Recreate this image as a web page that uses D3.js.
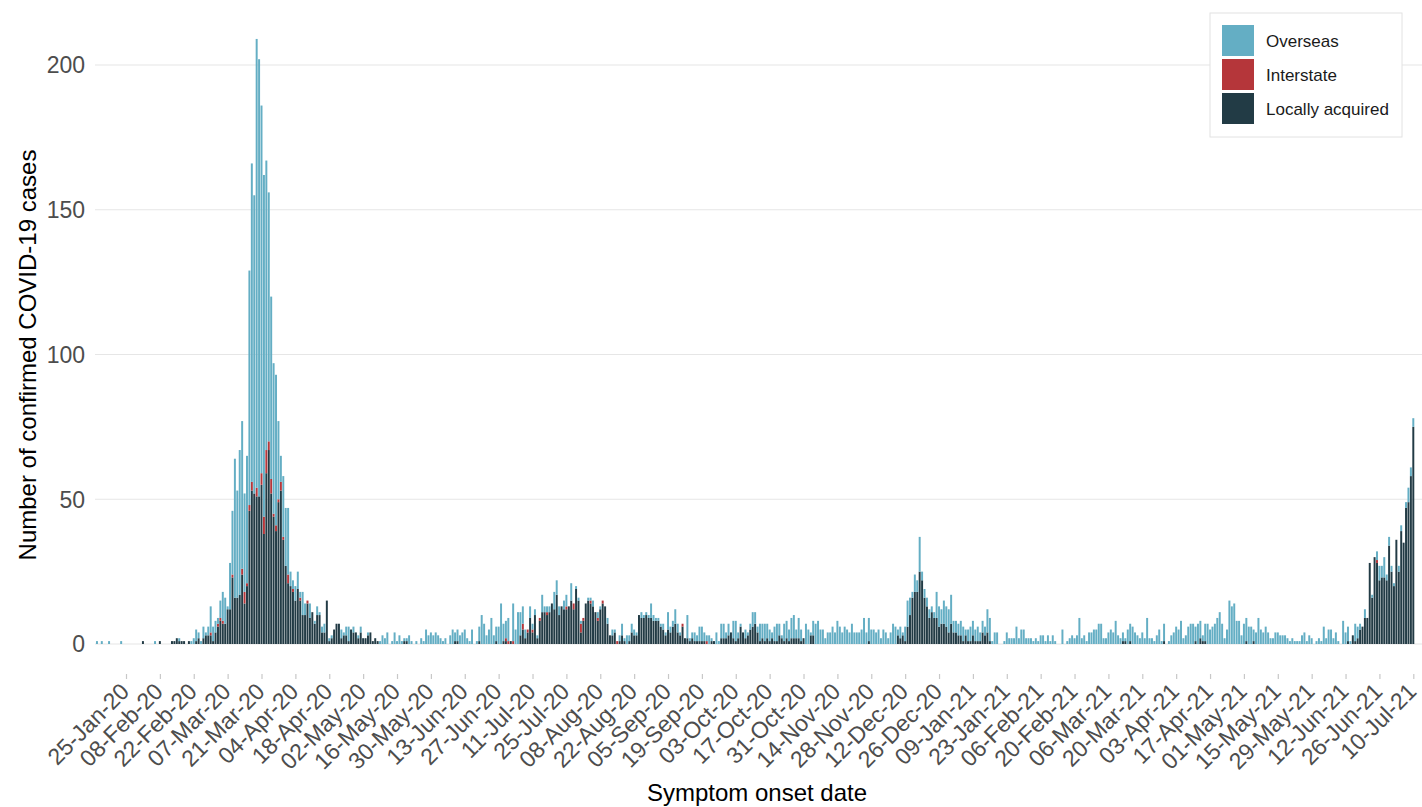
<!DOCTYPE html>
<html>
<head>
<meta charset="utf-8">
<script src="https://cdn.jsdelivr.net/npm/d3@7"></script>
<style>
  body { margin: 0; background: #fff; }
  text { font-family: "Liberation Sans", Arial, sans-serif; }
</style>
</head>
<body>
<div id="vis"></div>
<script>
const FRAME_WIDTH = 1422;
const FRAME_HEIGHT = 807;

// first bar of the series
const START_DAY = "13-Jan-20";

const tickLabels = ["25-Jan-20", "08-Feb-20", "22-Feb-20", "07-Mar-20", "21-Mar-20", "04-Apr-20",
  "18-Apr-20", "02-May-20", "16-May-20", "30-May-20", "13-Jun-20", "27-Jun-20", "11-Jul-20",
  "25-Jul-20", "08-Aug-20", "22-Aug-20", "05-Sep-20", "19-Sep-20", "03-Oct-20", "17-Oct-20",
  "31-Oct-20", "14-Nov-20", "28-Nov-20", "12-Dec-20", "26-Dec-20", "09-Jan-21", "23-Jan-21",
  "06-Feb-21", "20-Feb-21", "06-Mar-21", "20-Mar-21", "03-Apr-21", "17-Apr-21", "01-May-21",
  "15-May-21", "29-May-21", "12-Jun-21", "26-Jun-21", "10-Jul-21"];

const yTicks = [0, 50, 100, 150, 200];

const seriesKeys = ["local", "interstate", "overseas"];
const seriesNames = ["Locally acquired", "Interstate", "Overseas"];
const seriesColors = ["#223b45", "#b5363a", "#64aec4"];

// daily counts, 10 days per row
const local = [
  0,0,0,0,0,0,0,0,0,0, 0,0,0,0,0,0,0,0,0,1, 0,0,0,0,0,0,1,0,0,0, 0,1,1,2,1,1,1,0,1,0,
  0,1,2,0,2,3,3,3,1,4, 6,8,7,7,12,12,23,16,16,17, 24,14,20,46,53,52,51,51,55,38,
  59,67,52,44,39,49,53,36,27,21, 20,18,15,19,15,10,10,14,9,11, 7,10,10,4,4,15,1,2,5,7,
  7,2,3,3,1,5,4,4,2,4, 2,2,3,4,1,2,1,0,0,0, 0,0,0,0,0,0,0,1,1,0, 0,0,0,0,0,0,0,0,0,0,
  0,0,0,0,0,0,0,0,1,1, 0,0,0,0,0,0,0,0,1,0, 0,0,0,0,0,1,0,0,1,1, 0,1,0,0,0,3,5,2,4,9,
  4,10,2,8,11,11,10,11,14,12, 17,10,13,12,12,13,15,12,19,15, 4,8,14,15,14,13,11,8,12,14,
  13,7,3,3,4,0,1,3,1,0, 1,4,3,3,10,9,9,10,9,9, 8,8,8,6,5,3,5,4,6,7, 4,3,6,2,2,1,2,1,1,1,
  1,1,0,0,1,1,0,0,2,2, 2,3,4,2,1,2,6,4,2,3, 5,6,7,4,1,2,1,2,1,2, 1,1,3,2,1,2,1,2,2,2,
  2,1,2,0,0,3,3,0,0,0, 0,0,0,0,0,0,0,0,0,0, 0,0,0,0,0,0,0,0,0,1, 0,0,0,0,0,0,0,0,0,0,
  0,3,2,3,1,6,10,16,18,18, 25,22,16,13,9,11,9,9,6,7, 7,6,4,7,4,4,3,3,1,3, 1,1,3,1,1,1,4,3,4,1,
  0,0,0,0,0,0,0,0,0,0, 0,0,0,0,0,0,0,0,0,0, 0,0,0,0,0,0,0,0,0,0, 0,0,0,0,0,0,0,0,0,0,
  0,0,0,0,0,0,0,0,0,0, 0,0,0,0,1,1,0,1,0,0, 0,0,0,0,0,0,0,0,0,0, 0,1,0,0,0,0,0,0,0,0,
  0,0,0,0,1,0,2,1,1,0, 0,0,0,0,0,0,0,0,0,0, 0,0,0,0,0,1,0,0,1,0, 0,0,0,0,0,0,0,0,0,0,
  0,0,0,0,0,0,0,0,0,0, 0,0,0,0,0,0,0,0,0,0, 0,0,0,0,0,0,0,1,0,3, 1,2,5,6,9,9,28,16,30,28,
  22,23,23,22,34,25,20,36,25,39, 35,47,49,58,75];

const interstate = [
  0,0,0,0,0,0,0,0,0,0, 0,0,0,0,0,0,0,0,0,0, 0,0,0,0,0,0,0,0,0,0, 0,0,0,0,0,0,0,0,0,0,
  0,0,0,0,0,0,0,1,0,0, 1,1,1,0,0,0,1,0,0,0, 2,4,1,2,3,0,3,0,4,6,
  8,3,5,1,2,1,3,1,0,3, 0,1,0,0,1,0,0,1,0,0, 0,0,0,0,0,0,0,0,0,0,
  0,0,0,0,0,0,0,0,0,0, 0,0,0,0,0,0,0,0,0,0, 0,0,0,0,0,0,0,0,0,0, 0,0,0,0,0,0,0,0,0,0,
  0,0,0,0,0,0,0,0,0,0, 0,0,0,0,0,0,0,0,0,0, 0,0,0,0,0,0,0,0,0,1, 1,0,1,0,0,0,2,0,1,0,
  1,0,0,1,0,0,1,0,0,0, 0,0,0,0,1,0,0,2,0,0, 3,1,0,0,1,0,0,1,0,1,
  0,0,0,0,0,1,0,0,0,0, 0,0,0,0,0,0,0,0,0,0, 0,0,0,0,0,0,0,0,0,0, 0,0,1,0,0,0,0,0,0,0,
  0,0,1,0,0,0,0,0,0,0, 0,0,0,0,0,0,0,0,0,0, 0,0,0,0,0,0,0,0,0,0, 0,0,0,0,0,0,0,0,0,0,
  0,0,0,0,0,0,0,0,0,0, 0,0,0,0,0,0,0,0,0,0, 0,0,0,0,0,0,0,0,0,0, 0,0,0,0,0,0,0,0,0,0,
  0,0,0,0,0,0,0,0,0,0, 0,0,0,0,0,0,0,0,0,0, 0,0,0,0,0,0,0,0,0,0, 0,0,0,0,0,0,0,0,0,0,
  0,0,0,0,0,0,0,0,0,0, 0,0,0,0,0,0,0,0,0,0, 0,0,0,0,0,0,0,0,0,0, 0,0,0,0,0,0,0,0,0,0,
  0,0,0,0,0,0,0,0,0,0, 0,0,0,0,0,0,0,0,0,0, 0,0,0,0,0,0,0,0,0,0, 0,0,0,0,0,0,0,0,0,0,
  0,0,0,0,0,0,0,0,0,0, 0,0,0,0,0,0,0,0,0,0, 0,0,0,0,0,0,0,0,0,0, 0,0,0,0,0,0,0,0,0,0,
  0,0,0,0,0,0,0,0,0,0, 0,0,0,0,0,0,0,0,0,0, 0,0,0,0,0,0,0,0,0,0, 0,0,0,0,0,0,0,0,0,1,
  0,0,0,0,0,0,0,0,0,0, 0,0,0,0,0];

const overseas = [
  1,0,1,0,0,1,0,0,0,0, 1,0,0,0,0,0,0,0,0,0, 0,0,0,0,1,0,0,0,0,0, 0,0,0,0,1,0,0,0,0,1,
  2,4,2,1,4,1,3,9,5,4, 2,6,10,9,1,16,22,48,37,50, 51,34,44,81,110,103,155,151,127,118,
  100,86,63,52,52,27,9,21,20,23, 5,3,5,6,2,8,4,0,5,0, 1,3,1,2,3,0,1,1,0,0,
  0,3,1,3,5,0,2,0,1,2, 0,0,1,0,0,0,0,1,3,2, 4,0,1,4,1,3,1,1,1,3, 1,0,1,0,2,1,5,3,4,3,
  4,3,2,1,2,0,3,5,3,4, 3,4,5,2,1,5,0,1,5,10, 7,3,5,9,3,5,6,14,6,6, 8,0,13,5,11,8,6,3,0,4,
  2,2,1,0,6,2,2,2,0,6, 5,3,0,3,4,0,6,0,1,1, 1,0,0,1,1,2,0,2,1,0,
  0,2,0,2,1,0,2,4,1,3, 2,3,2,1,0,2,1,1,1,5, 2,1,1,1,2,1,6,2,2,5, 3,1,0,0,8,1,2,3,2,5,
  5,3,2,3,1,0,4,1,5,5, 2,4,0,6,7,2,1,0,3,1, 2,5,4,2,6,5,6,5,4,2, 5,6,4,1,6,6,4,7,8,3,
  7,4,0,7,5,1,5,7,8,5, 5,2,4,4,6,4,8,6,4,6, 5,4,7,4,4,4,5,9,4,8, 5,5,4,5,2,5,4,2,4,7,
  6,2,4,1,5,9,6,2,6,4, 12,3,3,3,3,2,2,9,7,5, 8,7,8,10,4,4,4,5,5,2, 4,5,5,4,5,3,4,3,8,8,
  1,4,4,0,0,1,4,2,2,2, 6,2,5,5,2,2,2,1,2,1, 3,3,1,3,1,3,1,0,0,5, 0,1,2,3,2,3,9,2,3,1,
  4,4,5,5,7,7,2,2,4,5, 4,8,3,2,3,1,5,6,6,4, 3,2,4,2,9,2,2,1,3,5, 1,6,0,1,3,4,6,5,8,2,
  3,6,7,7,5,7,6,2,6,7, 5,6,7,9,11,7,2,5,15,13, 14,8,8,3,7,8,6,6,4,4, 9,5,4,6,4,2,2,4,4,3,
  3,3,2,1,2,1,1,1,3,4, 1,3,2,0,1,2,1,6,2,5, 5,2,4,1,0,8,4,5,1,0, 6,4,2,0,3,0,0,1,0,3,
  5,4,7,2,3,2,1,0,2,2, 0,2,5,3,3];

const parseDay = d3.utcParse("%d-%b-%y");
const firstDay = parseDay(START_DAY);
const days = d3.utcDay.range(firstDay, d3.utcDay.offset(firstDay, local.length));

const table = days.map((d, i) => ({
  date: d, local: local[i], interstate: interstate[i], overseas: overseas[i]
}));

const tickDates = tickLabels.map(parseDay);

const X_SCALE = d3.scaleUtc()
  .domain([tickDates[0], tickDates[tickDates.length - 1]])
  .range([126, 1413.3]);

const Y_SCALE = d3.scaleLinear()
  .domain([0, 200])
  .range([644, 65]);

const STEP = X_SCALE(days[1]) - X_SCALE(days[0]);
const BAR_W = STEP - 0.45;

const FRAME = d3.select("#vis")
  .append("svg")
    .attr("width", FRAME_WIDTH)
    .attr("height", FRAME_HEIGHT);

// grid
FRAME.append("g")
  .selectAll("line")
  .data(yTicks)
  .enter()
  .append("line")
    .attr("x1", 95)
    .attr("x2", FRAME_WIDTH)
    .attr("y1", d => Y_SCALE(d))
    .attr("y2", d => Y_SCALE(d))
    .attr("stroke", "#e6e6e6")
    .attr("stroke-width", 1.1);

const stacked = d3.stack().keys(seriesKeys)(table);

FRAME.append("g")
  .selectAll("g")
  .data(stacked)
  .enter()
  .append("g")
    .attr("fill", (d, i) => seriesColors[i])
  .selectAll("rect")
  .data(d => d.filter(p => p[1] - p[0] > 0))
  .enter()
  .append("rect")
    .attr("x", p => X_SCALE(p.data.date) - BAR_W / 2)
    .attr("y", p => Y_SCALE(p[1]))
    .attr("width", BAR_W)
    .attr("height", p => Y_SCALE(p[0]) - Y_SCALE(p[1]));

// y axis labels
FRAME.append("g")
  .selectAll("text")
  .data(yTicks)
  .enter()
  .append("text")
    .attr("x", 85)
    .attr("y", d => Y_SCALE(d))
    .attr("dy", "0.36em")
    .attr("text-anchor", "end")
    .attr("font-size", 23)
    .attr("fill", "#4d4d4d")
    .text(d => d);

// x axis
const xAxis = FRAME.append("g")
  .attr("transform", "translate(0,674)")
  .call(d3.axisBottom(X_SCALE).tickValues(tickDates).tickFormat((d, i) => tickLabels[i]).tickSize(5));

xAxis.select(".domain").remove();
xAxis.selectAll(".tick line").attr("stroke", "#c8c8c8").attr("stroke-width", 1.2);
xAxis.selectAll(".tick text")
  .attr("x", 0)
  .attr("y", 0)
  .attr("dy", 0)
  .attr("text-anchor", "end")
  .attr("transform", "translate(4,19) rotate(-45)")
  .attr("font-size", 23)
  .attr("font-family", "Liberation Sans, Arial, sans-serif")
  .attr("fill", "#4d4d4d");

// axis titles
FRAME.append("text")
  .attr("transform", "translate(27,355) rotate(-90)")
  .attr("text-anchor", "middle")
  .attr("dy", "0.36em")
  .attr("font-size", 24)
  .attr("fill", "#000")
  .text("Number of confirmed COVID-19 cases");

FRAME.append("text")
  .attr("x", 757)
  .attr("y", 801)
  .attr("text-anchor", "middle")
  .attr("font-size", 24)
  .attr("fill", "#000")
  .text("Symptom onset date");

// legend
const legend = FRAME.append("g").attr("transform", "translate(1210,13)");

legend.append("rect")
  .attr("width", 192)
  .attr("height", 124)
  .attr("fill", "#fff")
  .attr("stroke", "#e2e2e2");

const legendItems = legend.selectAll(".item")
  .data(seriesNames.map((n, i) => ({name: n, color: seriesColors[i]})).reverse())
  .enter()
  .append("g")
    .attr("class", "item")
    .attr("transform", (d, i) => "translate(12," + (12 + i * 34) + ")");

legendItems.append("rect")
  .attr("width", 32)
  .attr("height", 31)
  .attr("fill", d => d.color);

legendItems.append("text")
  .attr("x", 44)
  .attr("y", 15.5)
  .attr("dy", "0.36em")
  .attr("font-size", 17)
  .attr("fill", "#1a1a1a")
  .text(d => d.name);
</script>
</body>
</html>
